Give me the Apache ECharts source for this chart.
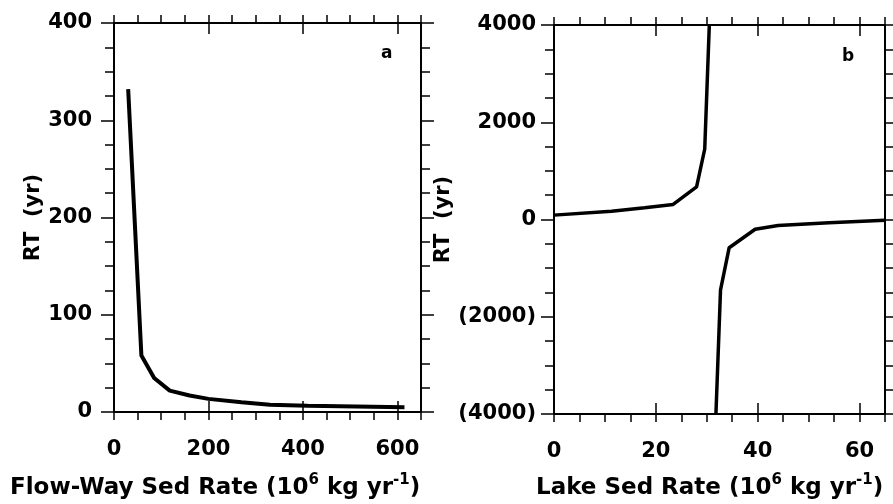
<!DOCTYPE html>
<html>
<head>
<meta charset="utf-8">
<script src="https://cdn.jsdelivr.net/npm/echarts@6/dist/echarts.min.js"></script>
<style>
html, body { margin: 0; padding: 0; background: #fff; }
#main { width: 893px; height: 504px; }
</style>
</head>
<body>
<div id="main"></div>
<script>
// panel a: flow-way sed rate vs residence time
var flowRate = [30, 58, 85, 118, 160, 200, 270, 330, 410, 615];
var flowRT = [332, 58, 35, 22, 17, 13.5, 10, 7.5, 6.5, 5];

// panel b: lake sed rate vs residence time (two branches)
var lakeRateUpper = [0, 11.3, 17.8, 23.4, 28, 29.6, 30.5];
var lakeRTUpper = [90, 170, 240, 310, 670, 1450, 4000];
var lakeRateLower = [31.8, 32.7, 34.4, 39.5, 44, 54, 65];
var lakeRTLower = [-4000, -1450, -580, -200, -125, -65, -15];

var yTicksA = [0, 100, 200, 300, 400];
var yTicksB = [-4000, -2000, 0, 2000, 4000];

function pairs(xs, ys) {
	return xs.map(function(x, i) { return [x, ys[i]]; });
}

var font = 'DejaVu Sans';
var black = '#000';

function xMinor(grid, pos, max, step, major, labels) {
	return {
		type: 'value', gridIndex: grid, position: pos, min: 0, max: max, interval: step,
		axisLine: { show: true, onZero: false, lineStyle: { color: black, width: 2 } },
		axisTick: { show: true, inside: false, length: 8, lineStyle: { color: black, width: 1.5 } },
		axisLabel: {
			show: labels, margin: 27, color: black, fontFamily: font, fontWeight: 'bold', fontSize: 21,
			showMaxLabel: true,
			formatter: function(v) { return v % major === 0 ? String(v) : ''; }
		},
		splitLine: { show: false }
	};
}

function xMajor(grid, pos, max, step) {
	return {
		type: 'value', gridIndex: grid, position: pos, min: 0, max: max, interval: step,
		axisLine: { show: false, onZero: false },
		axisTick: { show: true, inside: true, length: 11, lineStyle: { color: black, width: 1.5 } },
		axisLabel: { show: false },
		splitLine: { show: false }
	};
}

function yAxis(grid, pos, min, max, step, labels, margin) {
	return {
		type: 'value', gridIndex: grid, position: pos, min: min, max: max, interval: step,
		name: labels ? 'RT  (yr)' : '',
		nameLocation: 'middle', nameGap: 70, nameRotate: 90,
		nameTextStyle: { color: black, fontFamily: font, fontWeight: 'bold', fontSize: 21 },
		axisLine: { show: true, onZero: false, lineStyle: { color: black, width: 2 } },
		axisTick: { show: true, inside: false, length: 13, lineStyle: { color: black, width: 1.5 } },
		minorTick: { show: true, splitNumber: 4, length: 9, lineStyle: { color: black, width: 1.5 } },
		axisLabel: {
			show: labels, margin: margin, color: black, fontFamily: font, fontWeight: 'bold', fontSize: 21,
			formatter: function(v) { return v < 0 ? '(' + (-v) + ')' : String(v); }
		},
		splitLine: { show: false }
	};
}

var nameRich = {
	sup: { fontFamily: font, fontWeight: 'bold', fontSize: 15, fill: black, verticalAlign: 'top' }
};

var option = {
	animation: false,
	backgroundColor: '#fff',
	grid: [
		{ left: 114, top: 23, width: 307, height: 389 },
		{ left: 554, top: 25, width: 331, height: 389 }
	],
	xAxis: [
		xMinor(0, 'bottom', 650, 50, 200, true),
		xMajor(0, 'bottom', 650, 200),
		xMinor(0, 'top', 650, 50, 200, false),
		xMajor(0, 'top', 650, 200),
		xMinor(1, 'bottom', 65, 5, 20, true),
		xMajor(1, 'bottom', 65, 20),
		xMinor(1, 'top', 65, 5, 20, false),
		xMajor(1, 'top', 65, 20)
	],
	yAxis: [
		yAxis(0, 'left', yTicksA[0], yTicksA[yTicksA.length - 1], 100, true, 22),
		yAxis(0, 'right', yTicksA[0], yTicksA[yTicksA.length - 1], 100, false, 0),
		yAxis(1, 'left', yTicksB[0], yTicksB[yTicksB.length - 1], 2000, true, 18),
		yAxis(1, 'right', yTicksB[0], yTicksB[yTicksB.length - 1], 2000, false, 0)
	],
	series: [{
		type: 'line', xAxisIndex: 0, yAxisIndex: 0, symbol: 'none', silent: true,
		lineStyle: { color: black, width: 4 },
		data: pairs(flowRate, flowRT)
	}, {
		type: 'line', xAxisIndex: 4, yAxisIndex: 2, symbol: 'none', silent: true,
		lineStyle: { color: black, width: 3.5 },
		data: pairs(lakeRateUpper, lakeRTUpper)
	}, {
		type: 'line', xAxisIndex: 4, yAxisIndex: 2, symbol: 'none', silent: true,
		lineStyle: { color: black, width: 3.5 },
		data: pairs(lakeRateLower, lakeRTLower)
	}],
	graphic: [{
		type: 'text', left: 10, top: 473,
		style: {
			text: 'Flow-Way Sed Rate (10{sup|6} kg yr{sup|-1})',
			font: 'bold 23px ' + font, fill: black, lineHeight: 30, rich: nameRich
		}
	}, {
		type: 'text', left: 536, top: 473,
		style: {
			text: 'Lake Sed Rate (10{sup|6} kg yr{sup|-1})',
			font: 'bold 23px ' + font, fill: black, lineHeight: 30, rich: nameRich
		}
	}, {
		type: 'text', left: 381, top: 45,
		style: { text: 'a', font: 'bold 17px ' + font, fill: black }
	}, {
		type: 'text', left: 842, top: 48,
		style: { text: 'b', font: 'bold 17px ' + font, fill: black }
	}]
};

var chart = echarts.init(document.getElementById('main'));
chart.setOption(option);
</script>
</body>
</html>
